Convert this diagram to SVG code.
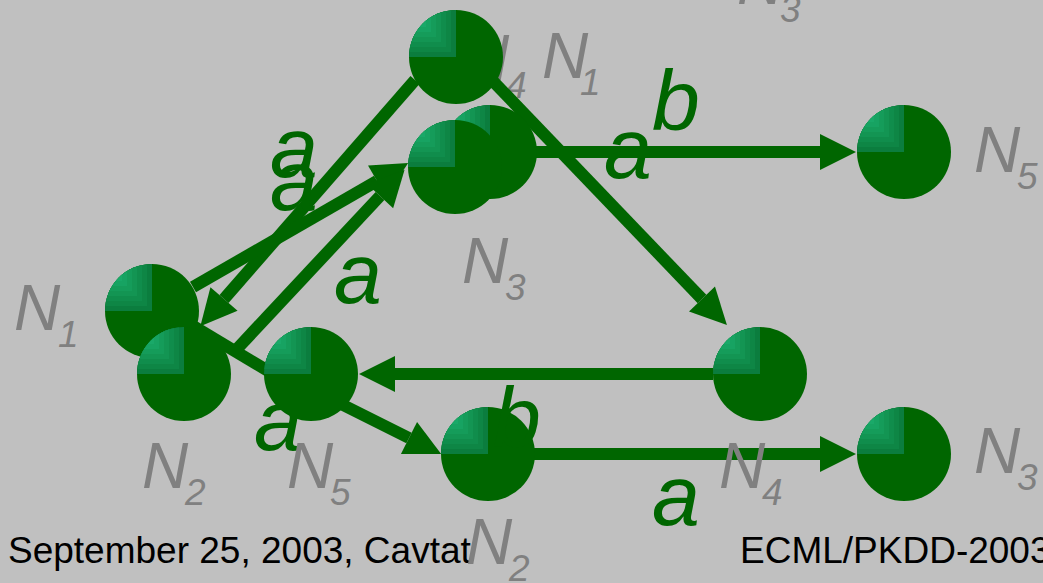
<svg xmlns="http://www.w3.org/2000/svg" xmlns:xlink="http://www.w3.org/1999/xlink" width="1043" height="583" viewBox="0 0 1043 583">
<style>
.edge{fill:none;stroke:#006600;stroke-width:12;marker-end:url(#ah)}
.el{font-family:"Liberation Sans",Arial,sans-serif;font-style:italic;font-size:86px;fill:#006600}
.nl{font-family:"Liberation Sans",Arial,sans-serif;font-style:italic;font-size:64px;fill:#808080}
.ns{font-family:"Liberation Sans",Arial,sans-serif;font-style:italic;font-size:37px;fill:#808080}
.ft{font-family:"Liberation Sans",Arial,sans-serif;font-size:37px;fill:#000000}
</style>
<defs>
<marker id="ah" markerUnits="userSpaceOnUse" markerWidth="37" markerHeight="38" refX="0" refY="19" orient="auto" viewBox="0 0 37 38" overflow="visible">
<path d="M0,1 L36,19 L0,37 Z" fill="#006600"/>
</marker>
<clipPath id="bc"><circle cx="0" cy="0" r="47"/></clipPath>
<g id="ball">
<circle cx="0" cy="0" r="47" fill="#006600"/>
<g clip-path="url(#bc)">
<rect x="-47" y="-47" width="47" height="47" fill="#0b7d3e"/>
<rect x="-47" y="-47" width="42" height="42" fill="#0e8645"/>
<rect x="-47" y="-47" width="37" height="37" fill="#108d4c"/>
<rect x="-47" y="-47" width="32" height="32" fill="#139553"/>
<rect x="-47" y="-47" width="27" height="27" fill="#159c5a"/>
<rect x="-47" y="-47" width="22" height="22" fill="#17a362"/>
<rect x="-47" y="-47" width="17" height="17" fill="#1aa969"/>
<rect x="-47" y="-47" width="12" height="12" fill="#1cae70"/>
</g>
</g>
</defs>
<rect x="0" y="0" width="1043" height="583" fill="#c0c0c0"/>
<g id="footer">
<text class="ft" x="8" y="563">September 25, 2003, Cavtat</text>
<text class="ft" x="740" y="563">ECML/PKDD-2003</text>
</g>
<g id="hidden-labels">
<text class="nl" x="463" y="80">N</text><text class="ns" x="506" y="98">4</text>
<text class="el" x="254" y="450">a</text>
</g>
<g id="connectors">
<path class="edge" d="M415,80 L224,299"/>
<path class="edge" d="M193,287 L377,181"/>
<path class="edge" d="M236,350 L380,196"/>
<path d="M193,326 L300,390" fill="none" stroke="#006600" stroke-width="12"/>
<path class="edge" d="M343,405 L409,438"/>
<path class="edge" d="M490,78 L702,299"/>
<path class="edge" d="M713,374 L395,374"/>
<path class="edge" d="M530,152 L820,152"/>
<path class="edge" d="M530,454 L820,454"/>
</g>
<g id="node-A"><use xlink:href="#ball" x="456" y="57"/></g>
<g id="node-B"><use xlink:href="#ball" x="490" y="152"/></g>
<g id="node-C"><use xlink:href="#ball" x="455" y="167"/></g>
<g id="node-D"><use xlink:href="#ball" x="152" y="311"/></g>
<g id="node-E"><use xlink:href="#ball" x="184" y="374"/></g>
<g id="node-F"><use xlink:href="#ball" x="311" y="374"/></g>
<g id="node-G"><use xlink:href="#ball" x="760" y="374"/></g>
<g id="node-H"><use xlink:href="#ball" x="488" y="454"/></g>
<g id="node-I"><use xlink:href="#ball" x="904" y="152"/></g>
<g id="node-J"><use xlink:href="#ball" x="904" y="454"/></g>
<g id="edge-labels">
<text class="el" x="270" y="177">a</text>
<text class="el" x="270" y="210">a</text>
<text class="el" x="334" y="303">a</text>
<text class="el" x="604" y="178">a</text>
<text class="el" x="652" y="130">b</text>
<text class="el" x="493" y="447">b</text>
<text class="el" x="652" y="525">a</text>
</g>
<g id="node-labels">
<text class="nl" x="14" y="330">N</text><text class="ns" x="58" y="347">1</text>
<text class="nl" x="142" y="488">N</text><text class="ns" x="185" y="505">2</text>
<text class="nl" x="287" y="488">N</text><text class="ns" x="330" y="505">5</text>
<text class="nl" x="462" y="283">N</text><text class="ns" x="505" y="300">3</text>
<text class="nl" x="542" y="78">N</text><text class="ns" x="580" y="95">1</text>
<text class="nl" x="974" y="172">N</text><text class="ns" x="1017" y="189">5</text>
<text class="nl" x="974" y="473">N</text><text class="ns" x="1017" y="490">3</text>
<text class="nl" x="719" y="488">N</text><text class="ns" x="762" y="505">4</text>
<text class="nl" x="466" y="564">N</text><text class="ns" x="509" y="581">2</text>
<text class="nl" x="737" y="4">N</text><text class="ns" x="780" y="22">3</text>
</g>
</svg>
